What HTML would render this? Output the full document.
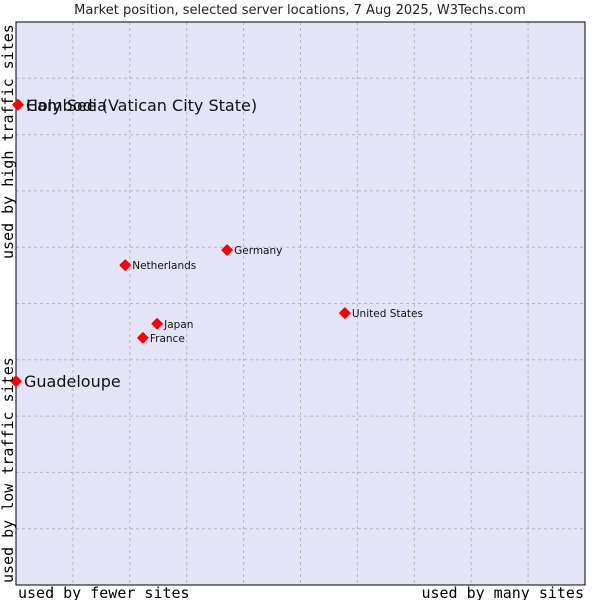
<!DOCTYPE html>
<html><head><meta charset="utf-8"><style>
html,body{margin:0;padding:0;background:#fff;}
svg{display:block;}
</style></head><body>
<svg id="chart" width="600" height="600" xmlns="http://www.w3.org/2000/svg">
<text x="300" y="14" text-anchor="middle" font-family="DejaVu Sans, sans-serif" font-size="13" fill="#222">Market position, selected server locations, 7 Aug 2025, W3Techs.com</text>
<rect x="16" y="22" width="569" height="563" fill="#e3e4f8"/>
<g id="grid"></g>
<rect x="16" y="22" width="569" height="563" fill="none" stroke="#000" stroke-width="1"/>
<g id="points"></g>
<text x="18" y="598" font-family="DejaVu Sans Mono, monospace" font-size="15" fill="#000">used by fewer sites</text>
<text x="584" y="598" text-anchor="end" font-family="DejaVu Sans Mono, monospace" font-size="15" fill="#000">used by many sites</text>
<text transform="translate(13,583) rotate(-90)" font-family="DejaVu Sans Mono, monospace" font-size="15" fill="#000">used by low traffic sites</text>
<text transform="translate(13,259) rotate(-90)" font-family="DejaVu Sans Mono, monospace" font-size="15" fill="#000">used by high traffic sites</text>
</svg>
<script>
const names = ["Cambodia","Holy See (Vatican City State)","Guadeloupe","Netherlands","Germany","United States","Japan","France"];
const xVals = [0.35, 0.35, 0, 19.2, 37.1, 57.8, 24.8, 22.3];
const yVals = [85.3, 85.3, 36.2, 56.8, 59.5, 48.3, 46.4, 43.9];
const bigLabel = [1,1,1,0,0,0,0,0];
const L=16,T=22,W=569,H=563;
const sx=v=>L+v/100*W, sy=v=>T+H-v/100*H;
const NS="http://www.w3.org/2000/svg";
const grid=document.getElementById('grid');
for(let i=1;i<10;i++){
  const v=document.createElementNS(NS,'line');
  
  
  v.setAttribute('x1',sx(i*10));v.setAttribute('x2',sx(i*10));v.setAttribute('y1',T);v.setAttribute('y2',T+H);
  v.setAttribute('stroke','#b8b8b8');v.setAttribute('stroke-dasharray','3,3');
  grid.appendChild(v);
  const h=document.createElementNS(NS,'line');
  
  
  h.setAttribute('y1',sy(i*10));h.setAttribute('y2',sy(i*10));h.setAttribute('x1',L);h.setAttribute('x2',L+W);
  h.setAttribute('stroke','#b8b8b8');h.setAttribute('stroke-dasharray','3,3');
  grid.appendChild(h);
}
const pts=document.getElementById('points');
names.forEach((n,i)=>{
  const x=sx(xVals[i]),y=sy(yVals[i]);
  const d=document.createElementNS(NS,'path');
  
  
  d.setAttribute('d',`M${x-5},${y} L${x},${y-5} L${x+5},${y} L${x},${y+5} Z`);
  d.setAttribute('fill','#ff0000');
  d.setAttribute('stroke','#ff0000');
  d.setAttribute('stroke-width','1.5');
  d.setAttribute('stroke-linejoin','round');
  pts.appendChild(d);
  const t=document.createElementNS(NS,'text');
  
  
  t.setAttribute('x',x+(bigLabel[i]?8:7));
  t.setAttribute('y',y+(bigLabel[i]?6:4));
  t.setAttribute('font-family','DejaVu Sans, sans-serif');
  t.setAttribute('font-size',bigLabel[i]?16:10.5);
  t.setAttribute('fill','#111');
  t.textContent=n;
  pts.appendChild(t);
});
</script>
</body></html>
